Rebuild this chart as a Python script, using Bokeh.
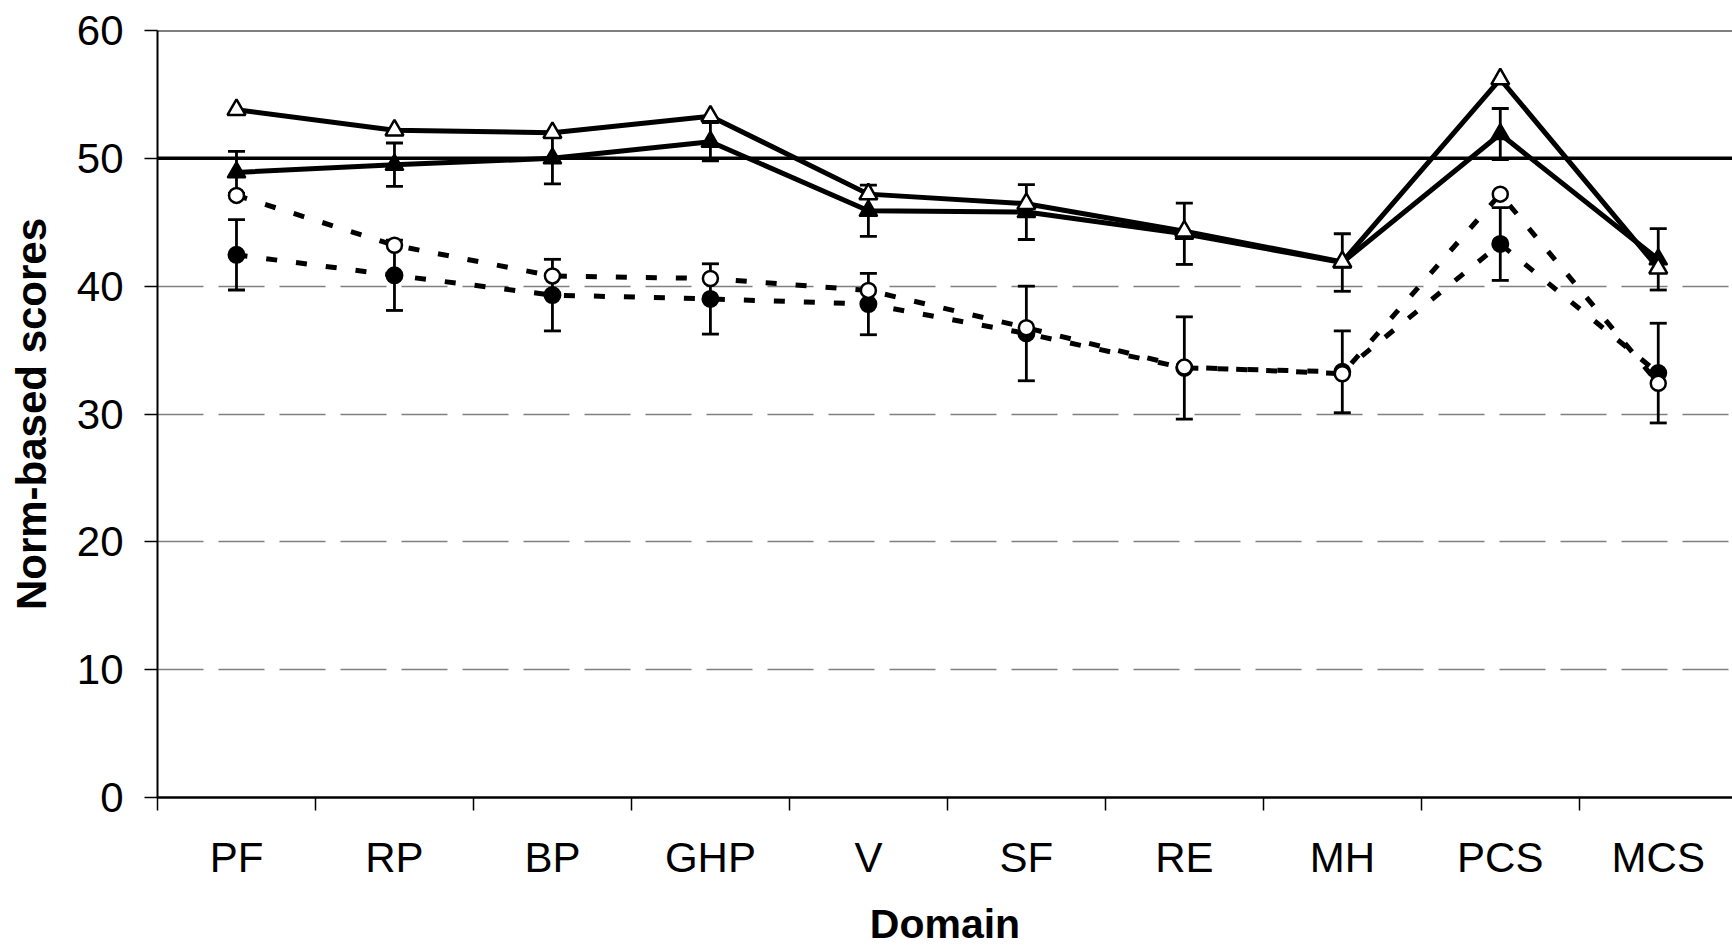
from bokeh.plotting import figure
from bokeh.models import Range1d, FixedTicker, Span, ColumnDataSource, CustomJSTickFormatter
from bokeh.embed import file_html
from bokeh.resources import INLINE

# ---- data ----
domains = ["PF", "RP", "BP", "GHP", "V", "SF", "RE", "MH", "PCS", "MCS"]
open_tri = [53.8, 52.2, 52.0, 53.3, 47.2, 46.45, 44.3, 41.9, 56.2, 41.4]
filled_tri = [48.9, 49.5, 50.0, 51.3, 45.9, 45.8, 44.1, 41.85, 51.9, 42.1]
filled_tri_err = [1.65, 1.7, 2.0, 1.5, 2.0, 2.15, 2.4, 2.25, 2.0, 2.4]
open_circ = [47.1, 43.2, 40.8, 40.6, 39.67, 36.75, 33.67, 33.15, 47.2, 32.4]
filled_circ = [42.45, 40.85, 39.3, 39.0, 38.6, 36.3, 33.6, 33.3, 43.3, 33.2]
filled_circ_err = [2.75, 2.75, 2.8, 2.75, 2.4, 3.7, 4.0, 3.2, 2.85, 3.9]
y_ticks = [0, 10, 20, 30, 40, 50, 60]
grid_ticks = [10, 20, 30, 40]
norm_value = 50
y_max = 60

x = [i + 0.5 for i in range(len(domains))]
boundaries = list(range(len(domains) + 1))

src = ColumnDataSource(dict(
    x=x, ot=open_tri, ft=filled_tri,
    ft_up=[v + e for v, e in zip(filled_tri, filled_tri_err)],
    ft_lo=[v - e for v, e in zip(filled_tri, filled_tri_err)],
    oc=open_circ, fc=filled_circ,
    fc_up=[v + e for v, e in zip(filled_circ, filled_circ_err)],
    fc_lo=[v - e for v, e in zip(filled_circ, filled_circ_err)],
))

FONT = "Liberation Sans"

p = figure(width=1732, height=949, output_backend="svg", toolbar_location=None,
           x_range=Range1d(0, 9.97), y_range=Range1d(0, y_max),
           min_border_left=157, min_border_right=0, min_border_top=30,
           min_border_bottom=140)
p.outline_line_color = None
p.background_fill_color = "white"
p.border_fill_color = "white"

# grid
p.xgrid.visible = False
p.ygrid.ticker = FixedTicker(ticks=grid_ticks)
p.ygrid.grid_line_color = "#808080"
p.ygrid.grid_line_width = 1.5
p.ygrid.grid_line_dash = "46 15"

# top border line and norm line
p.add_layout(Span(location=y_max, dimension="width", line_color="black", line_width=2))
p.add_layout(Span(location=norm_value, dimension="width", line_color="black", line_width=3.5))

# x axis
xa = p.xaxis[0]
xa.ticker = FixedTicker(ticks=x, minor_ticks=boundaries)
xa.formatter = CustomJSTickFormatter(args=dict(labels=domains),
                                     code="const i = Math.floor(tick); return (i >= 0 && i < labels.length) ? labels[i] : '';")
xa.major_tick_out = 0
xa.major_tick_in = 0
xa.minor_tick_out = 13
xa.minor_tick_in = 0
xa.minor_tick_line_color = "black"
xa.minor_tick_line_width = 1.5
xa.axis_line_color = "black"
xa.axis_line_width = 2.5
xa.major_label_text_font = FONT
xa.major_label_text_font_size = "42px"
xa.major_label_text_color = "black"
xa.major_label_standoff = 23
xa.axis_label = "Domain"
xa.axis_label_text_font = FONT
xa.axis_label_text_font_style = "bold"
xa.axis_label_text_font_size = "41px"
xa.axis_label_text_color = "black"
xa.axis_label_standoff = 17

# y axis
ya = p.yaxis[0]
ya.ticker = FixedTicker(ticks=y_ticks)
ya.major_tick_out = 13
ya.major_tick_in = 0
ya.minor_tick_out = 0
ya.minor_tick_in = 0
ya.major_tick_line_color = "black"
ya.major_tick_line_width = 1.5
ya.axis_line_color = "black"
ya.axis_line_width = 2
ya.major_label_text_font = FONT
ya.major_label_text_font_size = "42px"
ya.major_label_text_color = "black"
ya.major_label_standoff = 21
ya.axis_label = "Norm-based scores"
ya.axis_label_text_font = FONT
ya.axis_label_text_font_style = "bold"
ya.axis_label_text_font_size = "42px"
ya.axis_label_text_color = "black"
ya.axis_label_standoff = 19

# dashed lines (circles)
p.line("x", "fc", source=src, line_color="black", line_width=5, line_dash="11 19")
p.line("x", "oc", source=src, line_color="black", line_width=5, line_dash="11 19")
# solid lines (triangles)
p.line("x", "ft", source=src, line_color="black", line_width=5)
p.line("x", "ot", source=src, line_color="black", line_width=5)

# error bars
p.segment(x0="x", y0="fc_lo", x1="x", y1="fc_up", source=src, line_color="black", line_width=2.8)
p.segment(x0="x", y0="ft_lo", x1="x", y1="ft_up", source=src, line_color="black", line_width=2.8)
for col in ["fc_lo", "fc_up", "ft_lo", "ft_up"]:
    p.scatter("x", col, source=src, marker="dash", size=17, line_color="black", line_width=2.8)

# markers
p.scatter("x", "fc", source=src, marker="circle", size=16, fill_color="black", line_color="black", line_width=2)
p.scatter("x", "oc", source=src, marker="circle", size=15, fill_color="white", line_color="black", line_width=2.5)
p.scatter("x", "ft", source=src, marker="triangle", size=18, fill_color="black", line_color="black", line_width=2)
p.scatter("x", "ot", source=src, marker="triangle", size=18, fill_color="white", line_color="black", line_width=2.5)

open("out.html", "w").write(file_html(p, INLINE))
